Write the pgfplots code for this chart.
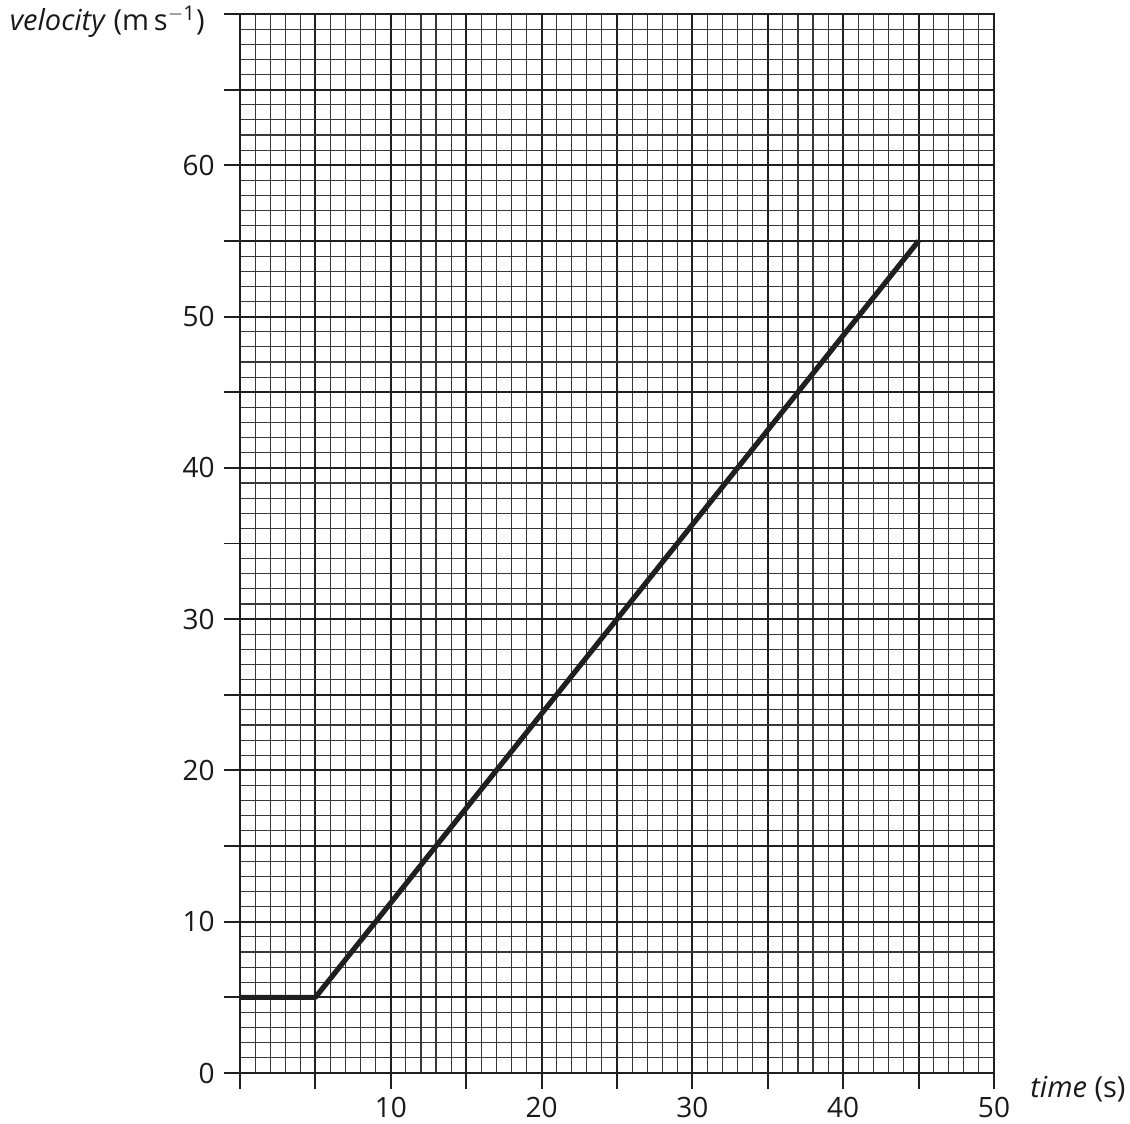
\documentclass[border=0pt]{standalone}
\usepackage{pgfplots}
\pgfplotsset{compat=1.18}
\usepackage{fontspec}
\setmainfont{Open Sans}
\begin{document}
\fontsize{14}{16}\selectfont
\begin{tikzpicture}
\path[use as bounding box] (-120pt,-25.5pt) rectangle (445pt,536.5pt);
\begin{axis}[
  at={(0pt,0pt)}, anchor=south west,
  scale only axis,
  width=377pt, height=529.5pt,
  xmin=0, xmax=50, ymin=0, ymax=70,
  xtick={0,5,...,50},
  xticklabels={,,10,,20,,30,,40,,50},
  ytick={0,5,...,70},
  yticklabels={0,,10,,20,,30,,40,,50,,60,,},
  minor x tick num=4, minor y tick num=4,
  grid=both,
  minor grid style={line width=0.55pt, black!78},
  major grid style={line width=0.95pt, black!88},
  tick align=outside,
  xtick pos=left, ytick pos=left,
  major tick length=7.8pt, minor tick length=0pt,
  major tick style={line width=0.95pt, black!88},
  axis line style={line width=0.95pt, black!88},
  /pgf/number format/assume math mode=true,
  ticklabel style={font=\fontsize{14}{16}\selectfont, text=black!90},
  xticklabel style={yshift=0.8pt},
  yticklabel style={xshift=0pt},
  axis on top=false,
  clip=false,
]
\addplot[line width=2.6pt, black!88, line join=round] coordinates {(0,5) (5,5) (45,55)};
\end{axis}
\node[anchor=base east, inner sep=0pt, text=black!90, font=\fontsize{14.5}{16}\selectfont] at (-17.5pt,521pt) {\textit{velocity} (m\,s\textsuperscript{\raisebox{0.1ex}{$-$}1})};
\node[anchor=base west, inner sep=0pt, text=black!90, font=\fontsize{14.5}{16}\selectfont] at (395pt,-12.5pt) {\textit{time} (s)};
\end{tikzpicture}
\end{document}
